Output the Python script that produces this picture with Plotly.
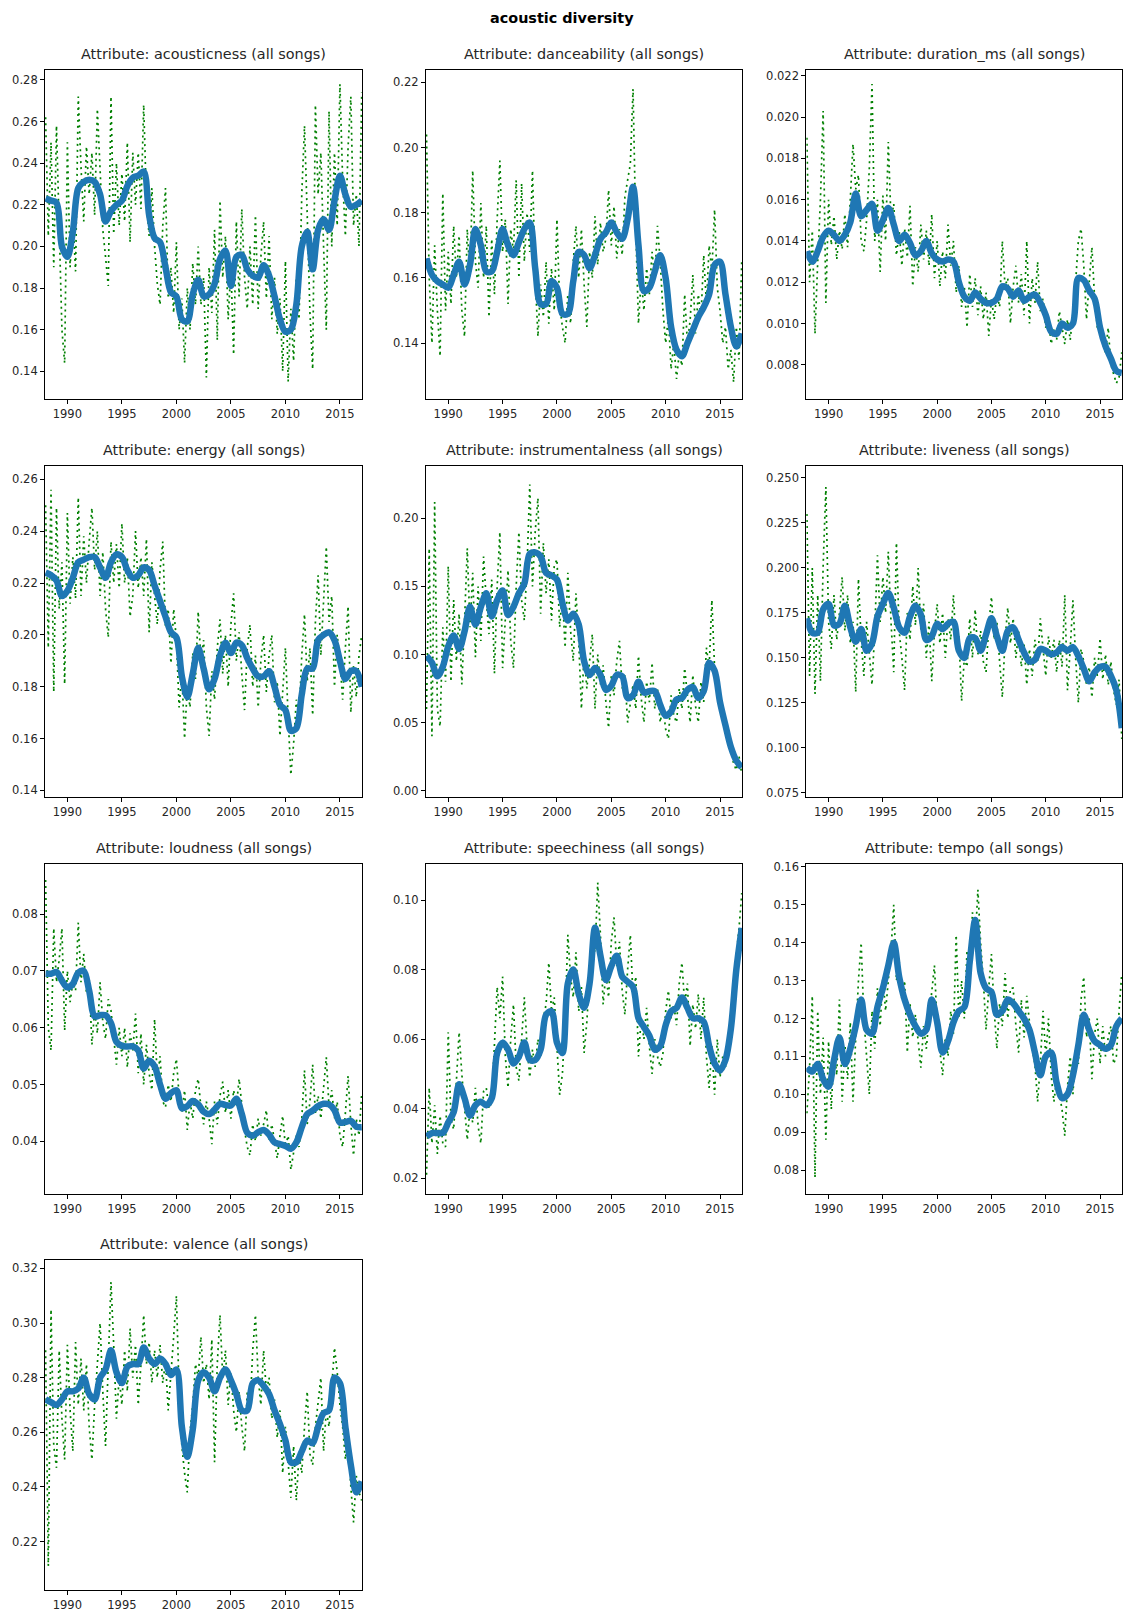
import plotly.graph_objects as go

# ---------------- data ----------------
attributes = ["acousticness", "danceability", "duration_ms", "energy",
              "instrumentalness", "liveness", "loudness", "speechiness",
              "tempo", "valence"]

weekly_start, weekly_step = 1988.0, 0.25     # dotted (raw) series, quarterly samples
smooth_start, smooth_step = 1988.0, 0.5      # thick smoothed series

acousticness_raw = [
    0.262, 0.205, 0.250, 0.190, 0.258, 0.205, 0.160, 0.144,
    0.250, 0.190, 0.215, 0.188, 0.272, 0.238, 0.212, 0.248,
    0.225, 0.245, 0.215, 0.266, 0.240, 0.208, 0.195, 0.181,
    0.272, 0.206, 0.240, 0.210, 0.235, 0.212, 0.250, 0.202,
    0.245, 0.220, 0.245, 0.218, 0.268, 0.222, 0.205, 0.228,
    0.200, 0.182, 0.172, 0.210, 0.228, 0.175, 0.190, 0.168,
    0.202, 0.160, 0.175, 0.144, 0.180, 0.160, 0.192, 0.172,
    0.200, 0.172, 0.185, 0.137, 0.190, 0.168, 0.208, 0.155,
    0.222, 0.185, 0.205, 0.165, 0.190, 0.148, 0.212, 0.176,
    0.218, 0.185, 0.170, 0.200, 0.172, 0.215, 0.170, 0.195,
    0.212, 0.175, 0.205, 0.165, 0.185, 0.158, 0.175, 0.140,
    0.193, 0.135, 0.170, 0.145, 0.185, 0.165, 0.225, 0.258,
    0.215, 0.168, 0.141, 0.268, 0.225, 0.245, 0.200, 0.160,
    0.265, 0.200, 0.245, 0.210, 0.278, 0.232, 0.205, 0.248,
    0.272, 0.210, 0.225, 0.200, 0.274]
acousticness_smooth = [
    0.223, 0.222, 0.221, 0.200, 0.195, 0.207, 0.228, 0.231, 0.232, 0.231,
    0.225, 0.212, 0.217, 0.220, 0.222, 0.229, 0.233, 0.234, 0.236, 0.215,
    0.204, 0.202, 0.190, 0.178, 0.176, 0.165, 0.164, 0.177, 0.184, 0.176,
    0.177, 0.182, 0.194, 0.198, 0.181, 0.195, 0.196, 0.189, 0.186, 0.185,
    0.191, 0.186, 0.176, 0.165, 0.159, 0.160, 0.172, 0.200, 0.207, 0.189,
    0.208, 0.213, 0.208, 0.222, 0.234, 0.225, 0.219, 0.220,
    0.222]

danceability_raw = [
    0.204, 0.160, 0.140, 0.170, 0.150, 0.136, 0.186, 0.150,
    0.168, 0.152, 0.176, 0.160, 0.173, 0.150, 0.142, 0.175,
    0.160, 0.193, 0.165, 0.157, 0.183, 0.160, 0.176, 0.148,
    0.172, 0.155, 0.178, 0.196, 0.168, 0.178, 0.152, 0.175,
    0.168, 0.190, 0.160, 0.189, 0.165, 0.180, 0.168, 0.193,
    0.160, 0.142, 0.158, 0.148, 0.165, 0.146, 0.163, 0.150,
    0.178, 0.152, 0.145, 0.140, 0.155, 0.146, 0.165, 0.176,
    0.160, 0.175, 0.158, 0.145, 0.168, 0.160, 0.179, 0.164,
    0.177, 0.168, 0.172, 0.187, 0.170, 0.182, 0.166, 0.175,
    0.167, 0.185, 0.190, 0.195, 0.218, 0.175, 0.146, 0.160,
    0.150, 0.163, 0.155, 0.168, 0.160, 0.176, 0.165, 0.150,
    0.140, 0.148, 0.132, 0.140, 0.129, 0.137, 0.133, 0.155,
    0.140, 0.147, 0.161, 0.143, 0.155, 0.148, 0.167, 0.152,
    0.170, 0.162, 0.181, 0.157, 0.150, 0.140, 0.145, 0.132,
    0.138, 0.128, 0.145, 0.135, 0.166]
danceability_smooth = [
    0.166, 0.161, 0.159, 0.158, 0.157, 0.161, 0.165, 0.158, 0.164, 0.175,
    0.170, 0.162, 0.162, 0.168, 0.175, 0.170, 0.167, 0.171, 0.175, 0.177,
    0.163, 0.152, 0.152, 0.159, 0.157, 0.149, 0.149, 0.159, 0.168, 0.167,
    0.163, 0.167, 0.172, 0.174, 0.177, 0.174, 0.172, 0.178, 0.188, 0.170,
    0.156, 0.157, 0.162, 0.167, 0.160, 0.145, 0.138, 0.136, 0.140, 0.144,
    0.148, 0.151, 0.155, 0.164, 0.165, 0.155, 0.145, 0.139,
    0.143]

duration_ms_raw = [
    0.0190, 0.0120, 0.0145, 0.0095, 0.0130, 0.0160, 0.0203, 0.0110,
    0.0160, 0.0138, 0.0152, 0.0131, 0.0145, 0.0136, 0.0153, 0.0137,
    0.0160, 0.0187, 0.0165, 0.0172, 0.0140, 0.0135, 0.0150, 0.0175,
    0.0216, 0.0140, 0.0160, 0.0125, 0.0162, 0.0140, 0.0188, 0.0150,
    0.0158, 0.0133, 0.0145, 0.0128, 0.0146, 0.0132, 0.0157, 0.0118,
    0.0137, 0.0125, 0.0148, 0.0131, 0.0145, 0.0128, 0.0153, 0.0122,
    0.0140, 0.0118, 0.0135, 0.0122, 0.0148, 0.0128, 0.0140, 0.0115,
    0.0128, 0.0108, 0.0118, 0.0098, 0.0124, 0.0108, 0.0122, 0.0104,
    0.0118, 0.0102, 0.0115, 0.0094, 0.0112, 0.0102, 0.0115, 0.0108,
    0.0140, 0.0118, 0.0122, 0.0100, 0.0118, 0.0128, 0.0110, 0.0124,
    0.0104, 0.0140, 0.0100, 0.0122, 0.0110, 0.0130, 0.0106, 0.0112,
    0.0098, 0.0102, 0.0090, 0.0097, 0.0092, 0.0106, 0.0098, 0.0090,
    0.0102, 0.0092, 0.0105, 0.0120, 0.0140, 0.0146, 0.0128, 0.0102,
    0.0120, 0.0137, 0.0112, 0.0098, 0.0102, 0.0090, 0.0086, 0.0098,
    0.0080, 0.0076, 0.0071, 0.0074, 0.0086]
duration_ms_smooth = [
    0.0135, 0.0130, 0.0135, 0.0142, 0.0145, 0.0143, 0.0140, 0.0143, 0.0149, 0.0163,
    0.0152, 0.0155, 0.0158, 0.0145, 0.0150, 0.0156, 0.0148, 0.0140, 0.0143, 0.0139,
    0.0133, 0.0135, 0.0140, 0.0134, 0.0131, 0.0130, 0.0131, 0.0130, 0.0120, 0.0113,
    0.0111, 0.0115, 0.0112, 0.0110, 0.0110, 0.0112, 0.0118, 0.0117, 0.0113, 0.0116,
    0.0111, 0.0113, 0.0114, 0.0110, 0.0104, 0.0096, 0.0095, 0.0100, 0.0098, 0.0100,
    0.0122, 0.0121, 0.0116, 0.0112, 0.0098, 0.0089, 0.0083, 0.0077,
    0.0076]

energy_raw = [
    0.250, 0.195, 0.256, 0.178, 0.249, 0.210, 0.228, 0.181,
    0.247, 0.212, 0.230, 0.214, 0.253, 0.215, 0.238, 0.220,
    0.236, 0.249, 0.225, 0.240, 0.215, 0.232, 0.210, 0.199,
    0.236, 0.220, 0.235, 0.218, 0.243, 0.220, 0.230, 0.207,
    0.215, 0.240, 0.218, 0.230, 0.215, 0.237, 0.201, 0.228,
    0.215, 0.204, 0.225, 0.236, 0.203, 0.210, 0.189, 0.210,
    0.198, 0.172, 0.185, 0.160, 0.180, 0.172, 0.193, 0.183,
    0.209, 0.190, 0.198, 0.172, 0.161, 0.186, 0.175, 0.195,
    0.206, 0.185, 0.200, 0.180, 0.204, 0.216, 0.190, 0.201,
    0.185, 0.171, 0.195, 0.204, 0.180, 0.192, 0.172, 0.190,
    0.200, 0.178, 0.192, 0.200, 0.174, 0.182, 0.161, 0.178,
    0.195, 0.168, 0.146, 0.158, 0.175, 0.168, 0.192, 0.208,
    0.182, 0.195, 0.169, 0.205, 0.223, 0.192, 0.215, 0.234,
    0.205, 0.215, 0.180, 0.200, 0.190, 0.175, 0.195, 0.211,
    0.170, 0.188, 0.176, 0.192, 0.200]
energy_smooth = [
    0.224, 0.223, 0.221, 0.215, 0.217, 0.222, 0.228, 0.229, 0.230, 0.230,
    0.226, 0.222, 0.228, 0.231, 0.230, 0.225, 0.222, 0.223, 0.226, 0.225,
    0.219, 0.213, 0.207, 0.201, 0.199, 0.184, 0.176, 0.185, 0.195, 0.187,
    0.179, 0.183, 0.192, 0.197, 0.193, 0.197, 0.196, 0.191, 0.187, 0.184,
    0.184, 0.186, 0.180, 0.173, 0.171, 0.163, 0.164, 0.177, 0.187, 0.187,
    0.198, 0.200, 0.201, 0.198, 0.190, 0.183, 0.186, 0.186,
    0.180]

instrumentalness_raw = [
    0.060, 0.178, 0.040, 0.212, 0.060, 0.047, 0.120, 0.080,
    0.165, 0.080, 0.140, 0.095, 0.130, 0.078, 0.125, 0.178,
    0.120, 0.160, 0.098, 0.150, 0.110, 0.172, 0.140, 0.115,
    0.155, 0.086, 0.150, 0.190, 0.090, 0.130, 0.162, 0.110,
    0.090, 0.150, 0.190, 0.140, 0.125, 0.165, 0.225, 0.150,
    0.190, 0.215, 0.130, 0.182, 0.145, 0.170, 0.125, 0.165,
    0.170, 0.120, 0.145, 0.105, 0.160, 0.118, 0.095, 0.145,
    0.110, 0.060, 0.100, 0.075, 0.095, 0.115, 0.060, 0.100,
    0.078, 0.092, 0.065, 0.046, 0.085, 0.070, 0.095, 0.110,
    0.075, 0.085, 0.050, 0.065, 0.078, 0.060, 0.099, 0.068,
    0.050, 0.080, 0.065, 0.094, 0.060, 0.075, 0.050, 0.062,
    0.045, 0.038, 0.070, 0.055, 0.050, 0.075, 0.060, 0.090,
    0.068, 0.050, 0.085, 0.062, 0.050, 0.080, 0.065, 0.105,
    0.090, 0.140, 0.090, 0.078, 0.060, 0.055, 0.042, 0.035,
    0.030, 0.020, 0.015, 0.025, 0.012]
instrumentalness_smooth = [
    0.099, 0.094, 0.084, 0.091, 0.106, 0.114, 0.104, 0.117, 0.135, 0.122,
    0.135, 0.145, 0.128, 0.140, 0.147, 0.129, 0.135, 0.145, 0.152, 0.174,
    0.175, 0.172, 0.160, 0.158, 0.155, 0.138, 0.125, 0.130, 0.122, 0.095,
    0.085, 0.090, 0.085, 0.074, 0.077, 0.085, 0.084, 0.068, 0.070, 0.080,
    0.072, 0.073, 0.073, 0.063, 0.055, 0.058, 0.067, 0.068, 0.074, 0.076,
    0.068, 0.073, 0.094, 0.088, 0.065, 0.048, 0.032, 0.022,
    0.017]

liveness_raw = [
    0.230, 0.140, 0.200, 0.130, 0.185, 0.137, 0.201, 0.245,
    0.170, 0.155, 0.185, 0.160, 0.175, 0.195, 0.165, 0.185,
    0.158, 0.170, 0.131, 0.194, 0.160, 0.140, 0.170, 0.150,
    0.135, 0.165, 0.207, 0.170, 0.195, 0.175, 0.209, 0.170,
    0.142, 0.214, 0.165, 0.150, 0.132, 0.175, 0.160, 0.190,
    0.168, 0.200, 0.165, 0.180, 0.150, 0.170, 0.137, 0.165,
    0.180, 0.158, 0.175, 0.150, 0.172, 0.160, 0.185, 0.155,
    0.162, 0.126, 0.150, 0.145, 0.172, 0.150, 0.177, 0.152,
    0.165, 0.148, 0.142, 0.168, 0.184, 0.160, 0.170, 0.148,
    0.128, 0.160, 0.178, 0.158, 0.172, 0.150, 0.165, 0.145,
    0.158, 0.135, 0.155, 0.140, 0.160, 0.148, 0.172, 0.155,
    0.140, 0.162, 0.150, 0.160, 0.142, 0.160, 0.145, 0.185,
    0.132, 0.155, 0.182, 0.150, 0.125, 0.155, 0.148, 0.135,
    0.145, 0.128, 0.150, 0.140, 0.161, 0.138, 0.152, 0.135,
    0.148, 0.132, 0.124, 0.138, 0.105]
liveness_smooth = [
    0.172, 0.164, 0.164, 0.177, 0.180, 0.168, 0.169, 0.179, 0.167, 0.159,
    0.166, 0.154, 0.158, 0.173, 0.180, 0.186, 0.178, 0.167, 0.164, 0.173,
    0.179, 0.174, 0.160, 0.162, 0.169, 0.166, 0.169, 0.170, 0.154, 0.150,
    0.161, 0.161, 0.154, 0.163, 0.172, 0.162, 0.154, 0.165, 0.167, 0.160,
    0.153, 0.148, 0.149, 0.155, 0.154, 0.152, 0.153, 0.156, 0.154, 0.156,
    0.151, 0.144, 0.137, 0.142, 0.145, 0.145, 0.140, 0.132,
    0.111]

loudness_raw = [
    0.086, 0.060, 0.056, 0.0775, 0.068, 0.072, 0.0775, 0.0595,
    0.070, 0.0645, 0.068, 0.0665, 0.0785, 0.068, 0.073, 0.066,
    0.0685, 0.057, 0.063, 0.059, 0.068, 0.061, 0.058, 0.065,
    0.063, 0.058, 0.0535, 0.060, 0.055, 0.060, 0.053, 0.059,
    0.056, 0.0625, 0.052, 0.059, 0.050, 0.057, 0.052, 0.049,
    0.0615, 0.051, 0.055, 0.047, 0.046, 0.050, 0.047, 0.052,
    0.0545, 0.048, 0.045, 0.049, 0.042, 0.047, 0.044, 0.049,
    0.051, 0.046, 0.043, 0.047, 0.044, 0.0395, 0.047, 0.043,
    0.048, 0.0505, 0.045, 0.049, 0.044, 0.049, 0.046, 0.051,
    0.046, 0.042, 0.039, 0.0375, 0.043, 0.040, 0.044, 0.041,
    0.043, 0.0455, 0.040, 0.043, 0.040, 0.037, 0.041, 0.0445,
    0.039, 0.041, 0.035, 0.038, 0.041, 0.039, 0.044, 0.0525,
    0.043, 0.047, 0.0535, 0.045, 0.048, 0.044, 0.049, 0.0548,
    0.046, 0.049, 0.044, 0.047, 0.041, 0.039, 0.045, 0.0515,
    0.043, 0.0375, 0.044, 0.041, 0.0485]
loudness_smooth = [
    0.0695, 0.0695, 0.0698, 0.0683, 0.0671, 0.0677, 0.0697, 0.0700, 0.0665, 0.0620,
    0.0622, 0.0622, 0.0608, 0.0575, 0.0568, 0.0567, 0.0567, 0.0560, 0.0528, 0.0542,
    0.0532, 0.0500, 0.0475, 0.0485, 0.0490, 0.0458, 0.0462, 0.0471, 0.0465, 0.0452,
    0.0448, 0.0456, 0.0466, 0.0464, 0.0463, 0.0475, 0.0448, 0.0415, 0.0410, 0.0416,
    0.0420, 0.0412, 0.0398, 0.0395, 0.0392, 0.0387, 0.0398, 0.0425, 0.0448, 0.0454,
    0.0462, 0.0466, 0.0465, 0.0455, 0.0433, 0.0434, 0.0436, 0.0426,
    0.0425]

speechiness_raw = [
    0.021, 0.046, 0.030, 0.041, 0.027, 0.038, 0.030, 0.029,
    0.062, 0.037, 0.034, 0.048, 0.062, 0.050, 0.041, 0.031,
    0.040, 0.036, 0.046, 0.035, 0.030, 0.045, 0.046, 0.040,
    0.042, 0.060, 0.075, 0.066, 0.078, 0.055, 0.046, 0.060,
    0.070, 0.052, 0.048, 0.060, 0.072, 0.058, 0.049, 0.057,
    0.052, 0.060, 0.055, 0.066, 0.070, 0.082, 0.068, 0.072,
    0.058, 0.044, 0.050, 0.065, 0.090, 0.078, 0.072, 0.085,
    0.068, 0.075, 0.056, 0.065, 0.078, 0.088, 0.085, 0.105,
    0.090, 0.070, 0.079, 0.072, 0.088, 0.095, 0.081, 0.088,
    0.074, 0.067, 0.080, 0.090, 0.072, 0.078, 0.055, 0.066,
    0.060, 0.069, 0.058, 0.050, 0.060, 0.055, 0.052, 0.056,
    0.068, 0.074, 0.066, 0.070, 0.064, 0.076, 0.082, 0.070,
    0.076, 0.058, 0.070, 0.063, 0.073, 0.060, 0.072, 0.055,
    0.046, 0.058, 0.044, 0.060, 0.049, 0.055, 0.052, 0.060,
    0.066, 0.070, 0.084, 0.092, 0.102]
speechiness_smooth = [
    0.032, 0.033, 0.033, 0.033, 0.036, 0.039, 0.047, 0.043, 0.038, 0.041,
    0.042, 0.041, 0.043, 0.056, 0.059, 0.057, 0.053, 0.055, 0.059, 0.054,
    0.054, 0.057, 0.067, 0.068, 0.059, 0.056, 0.076, 0.080, 0.073, 0.069,
    0.076, 0.092, 0.084, 0.077, 0.081, 0.084, 0.078, 0.0765, 0.075, 0.066,
    0.0635, 0.061, 0.057, 0.058, 0.064, 0.068, 0.069, 0.072, 0.069, 0.066,
    0.066, 0.065, 0.058, 0.053, 0.051, 0.054, 0.063, 0.080,
    0.092]

tempo_raw = [
    0.095, 0.107, 0.126, 0.078, 0.122, 0.100, 0.115, 0.088,
    0.114, 0.096, 0.112, 0.105, 0.125, 0.098, 0.113, 0.104,
    0.119, 0.098, 0.115, 0.130, 0.140, 0.120, 0.110, 0.100,
    0.122, 0.112, 0.128, 0.118, 0.131, 0.122, 0.130, 0.138,
    0.150, 0.130, 0.135, 0.125, 0.130, 0.111, 0.124, 0.115,
    0.121, 0.113, 0.107, 0.118, 0.112, 0.120, 0.128, 0.134,
    0.118, 0.112, 0.105, 0.115, 0.110, 0.122, 0.116, 0.142,
    0.120, 0.130, 0.120, 0.138, 0.130, 0.148, 0.140, 0.154,
    0.140, 0.130, 0.117, 0.128, 0.137, 0.122, 0.112, 0.124,
    0.118, 0.132, 0.120, 0.128, 0.128, 0.118, 0.111, 0.125,
    0.115, 0.126, 0.118, 0.112, 0.108, 0.098, 0.108, 0.122,
    0.110, 0.120, 0.105, 0.098, 0.104, 0.100, 0.096, 0.089,
    0.102, 0.110, 0.100, 0.112, 0.108, 0.125, 0.131, 0.115,
    0.120, 0.104, 0.116, 0.120, 0.108, 0.118, 0.110, 0.115,
    0.118, 0.108, 0.110, 0.122, 0.132]
tempo_smooth = [
    0.107, 0.106, 0.108, 0.104, 0.102, 0.109, 0.115, 0.108, 0.112, 0.118,
    0.125, 0.117, 0.116, 0.123, 0.128, 0.134, 0.140, 0.131, 0.125, 0.121,
    0.118, 0.116, 0.117, 0.125, 0.119, 0.111, 0.114, 0.119, 0.122, 0.123,
    0.135, 0.146, 0.132, 0.128, 0.127, 0.121, 0.122, 0.125, 0.124, 0.122,
    0.120, 0.117, 0.111, 0.105, 0.110, 0.111, 0.103, 0.099, 0.100, 0.105,
    0.113, 0.121, 0.117, 0.114, 0.113, 0.112, 0.113, 0.118,
    0.120]

valence_raw = [
    0.290, 0.211, 0.305, 0.255, 0.247, 0.290, 0.265, 0.250,
    0.292, 0.268, 0.253, 0.293, 0.270, 0.287, 0.268, 0.285,
    0.262, 0.250, 0.270, 0.285, 0.300, 0.275, 0.255, 0.285,
    0.315, 0.292, 0.265, 0.280, 0.270, 0.290, 0.275, 0.298,
    0.280, 0.292, 0.270, 0.285, 0.303, 0.285, 0.293, 0.278,
    0.290, 0.280, 0.292, 0.278, 0.286, 0.268, 0.280, 0.295,
    0.310, 0.275, 0.255, 0.245, 0.238, 0.260, 0.270, 0.285,
    0.280, 0.295, 0.278, 0.285, 0.272, 0.294, 0.249, 0.285,
    0.303, 0.280, 0.290, 0.270, 0.282, 0.268, 0.260, 0.275,
    0.262, 0.253, 0.275, 0.268, 0.290, 0.303, 0.280, 0.270,
    0.290, 0.275, 0.280, 0.265, 0.272, 0.258, 0.268, 0.245,
    0.262, 0.250, 0.236, 0.255, 0.235, 0.252, 0.245, 0.262,
    0.275, 0.252, 0.248, 0.262, 0.270, 0.280, 0.253, 0.268,
    0.262, 0.278, 0.291, 0.282, 0.270, 0.262, 0.250, 0.258,
    0.240, 0.227, 0.244, 0.238, 0.235]
valence_smooth = [
    0.272, 0.271, 0.270, 0.272, 0.275, 0.275, 0.276, 0.280, 0.274, 0.272,
    0.280, 0.283, 0.290, 0.282, 0.278, 0.284, 0.285, 0.285, 0.291, 0.287,
    0.285, 0.287, 0.285, 0.281, 0.283, 0.262, 0.251, 0.261, 0.279, 0.282,
    0.280, 0.275, 0.280, 0.283, 0.279, 0.274, 0.268, 0.268, 0.278, 0.279,
    0.277, 0.274, 0.268, 0.263, 0.257, 0.249, 0.249, 0.253, 0.257, 0.256,
    0.262, 0.267, 0.268, 0.280, 0.278, 0.262, 0.248, 0.238,
    0.242]

x_tick_years = [1990, 1995, 2000, 2005, 2010, 2015]

# y-axis tick settings per panel: (tick0, dtick, format)
y_ticks = {
    "acousticness": (0.14, 0.02, ".2f"),
    "danceability": (0.14, 0.02, ".2f"),
    "duration_ms": (0.008, 0.002, ".3f"),
    "energy": (0.14, 0.02, ".2f"),
    "instrumentalness": (0.0, 0.05, ".2f"),
    "liveness": (0.075, 0.025, ".3f"),
    "loudness": (0.04, 0.01, ".2f"),
    "speechiness": (0.02, 0.02, ".2f"),
    "tempo": (0.08, 0.01, ".2f"),
    "valence": (0.22, 0.02, ".2f"),
}
y_ranges = {
    "acousticness": [0.1266, 0.2849],
    "danceability": [0.1228, 0.2239],
    "duration_ms": [0.00633, 0.0223],
    "energy": [0.1374, 0.2651],
    "instrumentalness": [-0.0049, 0.2385],
    "liveness": [0.0726, 0.2566],
    "loudness": [0.03075, 0.0889],
    "speechiness": [0.0155, 0.1105],
    "tempo": [0.0737, 0.1609],
    "valence": [0.2021, 0.323],
}

raw_series = {
    "acousticness": acousticness_raw, "danceability": danceability_raw,
    "duration_ms": duration_ms_raw, "energy": energy_raw,
    "instrumentalness": instrumentalness_raw, "liveness": liveness_raw,
    "loudness": loudness_raw, "speechiness": speechiness_raw,
    "tempo": tempo_raw, "valence": valence_raw,
}
smooth_series = {
    "acousticness": acousticness_smooth, "danceability": danceability_smooth,
    "duration_ms": duration_ms_smooth, "energy": energy_smooth,
    "instrumentalness": instrumentalness_smooth, "liveness": liveness_smooth,
    "loudness": loudness_smooth, "speechiness": speechiness_smooth,
    "tempo": tempo_smooth, "valence": valence_smooth,
}

# ---------------- layout geometry ----------------
W, H = 1123, 1613
col_domains = [[0.0401, 0.3226], [0.3793, 0.6610], [0.7180, 0.9994]]
row_domains = [[0.7539, 0.9591], [0.5061, 0.7123], [0.2591, 0.4648], [0.0122, 0.2178]]
FONT = "DejaVu Sans, Verdana, sans-serif"
TEXT = "#262626"

fig = go.Figure()
layout = dict(
    width=W, height=H,
    margin=dict(l=0, r=0, t=0, b=0),
    paper_bgcolor="white", plot_bgcolor="white",
    showlegend=False,
    font=dict(family=FONT, size=11.5, color=TEXT),
)
annotations = []

for i, attr in enumerate(attributes):
    r, c = divmod(i, 3)
    n = i + 1
    xname = "xaxis" if n == 1 else f"xaxis{n}"
    yname = "yaxis" if n == 1 else f"yaxis{n}"
    xref = "x" if n == 1 else f"x{n}"
    yref = "y" if n == 1 else f"y{n}"

    raw = raw_series[attr]
    smooth = smooth_series[attr]
    raw_x = [weekly_start + weekly_step * k for k in range(len(raw))]
    smooth_x = [smooth_start + smooth_step * k for k in range(len(smooth))]

    fig.add_trace(go.Scatter(
        x=raw_x, y=raw, mode="lines", xaxis=xref, yaxis=yref,
        line=dict(color="#008000", width=1.7, dash="2px,4px"),
        hoverinfo="skip"))
    fig.add_trace(go.Scatter(
        x=smooth_x, y=smooth, mode="lines", xaxis=xref, yaxis=yref,
        line=dict(color="#1f77b4", width=6.5, shape="spline", smoothing=0.9),
        hoverinfo="skip"))

    t0, dt, fmt = y_ticks[attr]
    axis_common = dict(
        showline=True, mirror=True, linecolor="black", linewidth=1,
        ticks="outside", ticklen=4, tickwidth=1, tickcolor="black",
        showgrid=False, zeroline=False,
        tickfont=dict(family=FONT, size=11.5, color=TEXT),
    )
    layout[xname] = dict(
        domain=col_domains[c], anchor=yref, range=[1987.95, 2017.05],
        tickmode="array", tickvals=x_tick_years,
        ticktext=[str(v) for v in x_tick_years], **axis_common)
    layout[yname] = dict(
        domain=row_domains[r], anchor=xref, range=y_ranges[attr],
        tickmode="linear", tick0=t0, dtick=dt, tickformat=fmt, **axis_common)

    annotations.append(dict(
        text=f"Attribute: {attr} (all songs)",
        x=(col_domains[c][0] + col_domains[c][1]) / 2, xref="paper",
        y=row_domains[r][1], yref="paper", yanchor="middle", xanchor="center",
        yshift=16, showarrow=False,
        font=dict(family=FONT, size=14.4, color=TEXT)))

annotations.append(dict(
    text="<b>acoustic diversity</b>", x=0.5, xref="paper",
    y=1 - 14.5 / H, yref="paper", xanchor="center", yanchor="middle",
    showarrow=False, font=dict(family=FONT, size=14.4, color="black")))

layout["annotations"] = annotations
fig.update_layout(**layout)
fig.write_html("out.html",
               config={"displayModeBar": False},
               post_script="document.body.style.margin='0px';"
                           "document.body.style.overflow='hidden';")
